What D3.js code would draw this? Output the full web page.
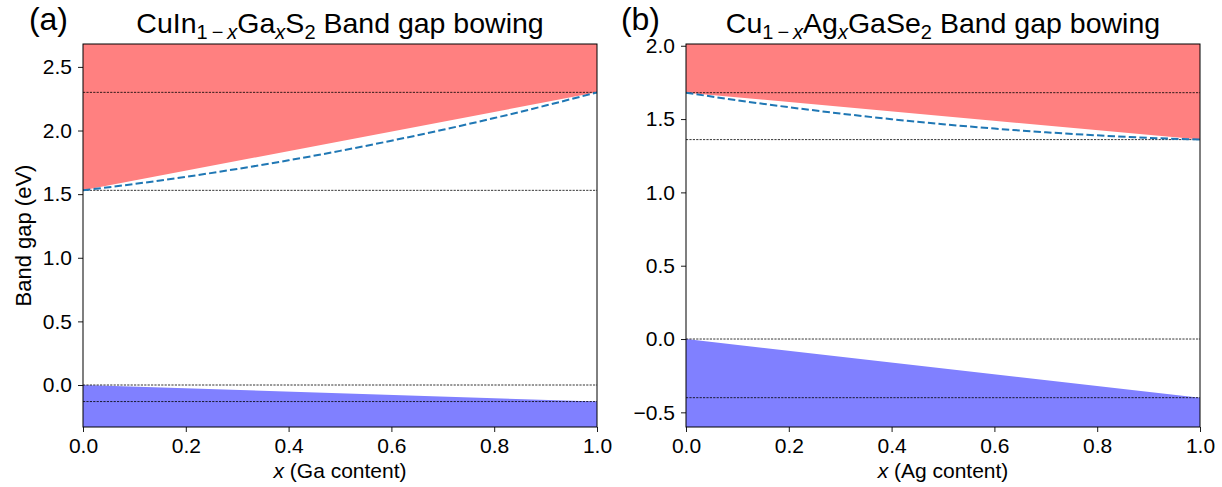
<!DOCTYPE html>
<html><head><meta charset="utf-8">
<script src="https://cdn.jsdelivr.net/npm/d3@7"></script>
<style>
body{margin:0;background:#fff}
svg text{font-family:"Liberation Sans",Arial,Helvetica,sans-serif;fill:#000}
</style>
</head><body><svg id="c" width="1222" height="487"></svg>
<script>
// ---- data ----
const xTicks = [0, 0.2, 0.4, 0.6, 0.8, 1.0];
const compX = [0, 0.1, 0.2, 0.3, 0.4, 0.5, 0.6, 0.7, 0.8, 0.9, 1.0];
const endX = [0, 1];
// (a) CuIn1-xGaxS2
const gapA = [1.53, 1.580, 1.636, 1.698, 1.766, 1.840, 1.920, 2.006, 2.098, 2.196, 2.30];
const cbmA = [1.53, 2.30];
const vbmA = [0, -0.13];
const yTicksA = [0, 0.5, 1.0, 1.5, 2.0, 2.5];
const yDomainA = [-0.33, 2.68];
// (b) Cu1-xAgxGaSe2
const gapB = [1.68, 1.628, 1.581, 1.538, 1.499, 1.465, 1.435, 1.410, 1.389, 1.372, 1.36];
const cbmB = [1.68, 1.36];
const vbmB = [0, -0.40];
const yTicksB = [-0.5, 0, 0.5, 1.0, 1.5, 2.0];
const yDomainB = [-0.6, 2.012];

const svg = d3.select("#c");
const fmt = v => d3.format(".1f")(v).replace("-", "\u2212");
const TITLE = 28.5, SUB = 20, SHIFT = 6;

function panel(opt) {
  const {left, right, top, bottom, gap, cbm, vbm, yTicks, yDomain} = opt;
  const x = d3.scaleLinear().domain([0, 1]).range([left, right]);
  const y = d3.scaleLinear().domain(yDomain).range([bottom, top]);
  const g = svg.append("g");
  const clipId = "clip" + opt.id;
  svg.append("clipPath").attr("id", clipId).append("rect")
    .attr("x", left).attr("y", top).attr("width", right - left).attr("height", bottom - top);
  const body = g.append("g").attr("clip-path", `url(#${clipId})`);

  const cb = endX.map((v, i) => ({x: v, y: cbm[i]}));
  const vb = endX.map((v, i) => ({x: v, y: vbm[i]}));
  body.append("path").datum(cb)
    .attr("d", d3.area().x(d => x(d.x)).y0(y(yDomain[1])).y1(d => y(d.y)))
    .attr("fill", "#ff8080");
  body.append("path").datum(vb)
    .attr("d", d3.area().x(d => x(d.x)).y0(y(yDomain[0])).y1(d => y(d.y)))
    .attr("fill", "#8080ff");

  const refs = [cbm[0], cbm[1], vbm[0], vbm[1]];
  body.selectAll("line.ref").data(refs).join("line")
    .attr("x1", x(0)).attr("x2", x(1))
    .attr("y1", d => y(d)).attr("y2", d => y(d))
    .attr("stroke", "#000").attr("stroke-width", 0.8)
    .attr("stroke-dasharray", "2.2,1.2");

  const pts = compX.map((v, i) => ({x: v, y: gap[i]}));
  body.append("path").datum(pts)
    .attr("d", d3.line().x(d => x(d.x)).y(d => y(d.y)).curve(d3.curveMonotoneX))
    .attr("fill", "none").attr("stroke", "#1f77b4").attr("stroke-width", 2)
    .attr("stroke-dasharray", "7.4,3.2");

  const ax = g.append("g").attr("transform", `translate(0,${bottom})`)
    .call(d3.axisBottom(x).tickValues(xTicks).tickFormat(fmt).tickSize(5).tickPadding(6));
  const ay = g.append("g").attr("transform", `translate(${left},0)`)
    .call(d3.axisLeft(y).tickValues(yTicks).tickFormat(fmt).tickSize(5).tickPadding(6));
  [ax, ay].forEach(a => {
    a.select(".domain").remove();
    a.selectAll(".tick line").attr("stroke", "#000").attr("stroke-width", 0.9);
    a.selectAll(".tick text").attr("font-size", 21).attr("fill", "#000");
  });
  g.append("rect").attr("x", left).attr("y", top).attr("width", right - left).attr("height", bottom - top)
    .attr("fill", "none").attr("stroke", "#000").attr("stroke-width", 1);

  const t = g.append("text").attr("x", (left + right) / 2).attr("y", top - 11)
    .attr("text-anchor", "middle").attr("font-size", TITLE);
  let level = 0;
  opt.title.forEach(p => {
    const lv = p.sub ? 1 : 0;
    const s = t.append("tspan").text(p.t).attr("font-size", p.sub ? SUB : TITLE);
    if (lv !== level) s.attr("dy", (lv - level) * SHIFT);
    level = lv;
    if (p.it) s.attr("font-style", "italic");
  });
  g.append("text").attr("x", opt.labelX).attr("y", top - 14).attr("text-anchor", "end")
    .attr("font-size", 32).text(opt.label);

  const xl = g.append("text").attr("x", (left + right) / 2).attr("y", bottom + 51)
    .attr("text-anchor", "middle").attr("font-size", 21);
  xl.append("tspan").attr("font-style", "italic").text("x");
  xl.append("tspan").text(" (" + opt.xlabel + " content)");
}

panel({id: "a", left: 83, right: 597, top: 44, bottom: 427, gap: gapA, cbm: cbmA, vbm: vbmA,
  yTicks: yTicksA, yDomain: yDomainA, label: "(a)", labelX: 68, xlabel: "Ga",
  title: [{t: "CuIn"}, {t: "1\u2009\u2212\u2009", sub: true}, {t: "x", sub: true, it: true}, {t: "Ga"},
          {t: "x", sub: true, it: true}, {t: "S"}, {t: "2", sub: true}, {t: " Band gap bowing"}]});
panel({id: "b", left: 686, right: 1200, top: 44, bottom: 427, gap: gapB, cbm: cbmB, vbm: vbmB,
  yTicks: yTicksB, yDomain: yDomainB, label: "(b)", labelX: 660, xlabel: "Ag",
  title: [{t: "Cu"}, {t: "1\u2009\u2212\u2009", sub: true}, {t: "x", sub: true, it: true}, {t: "Ag"},
          {t: "x", sub: true, it: true}, {t: "GaSe"}, {t: "2", sub: true}, {t: " Band gap bowing"}]});

svg.append("text").attr("transform", "translate(31,235.5) rotate(-90)")
  .attr("text-anchor", "middle").attr("font-size", 22).text("Band gap (eV)");
</script>
</body></html>
